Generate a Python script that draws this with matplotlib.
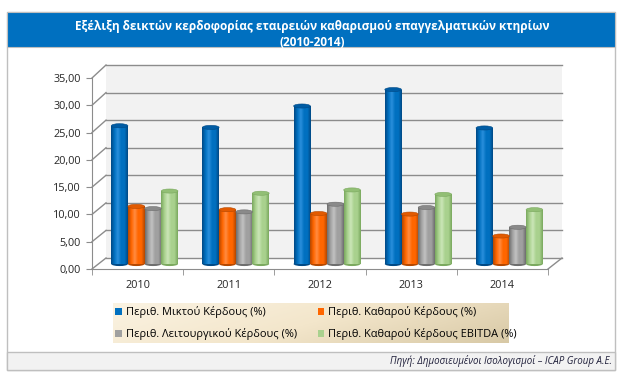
import numpy as np
import matplotlib.pyplot as plt
from matplotlib.patches import Rectangle, Ellipse
from matplotlib.lines import Line2D
from matplotlib.colors import LinearSegmentedColormap

plt.rcParams['font.family'] = ['Open Sans', 'DejaVu Sans']

years = ['2010', '2011', '2012', '2013', '2014']
gross_margin = [25.2, 24.9, 28.8, 31.8, 24.8]
net_margin = [10.5, 9.9, 9.2, 9.1, 5.1]
operating_margin = [10.1, 9.5, 10.9, 10.3, 6.7]
ebitda_margin = [13.3, 12.9, 13.5, 12.7, 9.9]

series = [gross_margin, net_margin, operating_margin, ebitda_margin]
series_labels = ['Περιθ. Μικτού Κέρδους (%)',
                 'Περιθ. Καθαρού Κέρδους (%)',
                 'Περιθ. Λειτουργικού Κέρδους (%)',
                 'Περιθ. Καθαρού Κέρδους EBITDA (%)']
y_ticks = [0, 5, 10, 15, 20, 25, 30, 35]

title = 'Εξέλιξη δεικτών κερδοφορίας εταιρειών καθαρισμού επαγγελματικών κτηρίων\n(2010-2014)'
source = 'Πηγή: Δημοσιευμένοι Ισολογισμοί – ICAP Group A.E.'

# (dark edge, base, highlight, cap)
palette = [('#004a86', '#0070c0', '#2a8fdc', '#005ca4'),
           ('#b54800', '#ff6600', '#ff8c42', '#e25a00'),
           ('#6e6e6e', '#a0a0a0', '#c2c2c2', '#8a8a8a'),
           ('#7ba95f', '#a9d18e', '#cbe6b8', '#92bf75')]

W, H = 636, 376
fig = plt.figure(figsize=(W / 100, H / 100), dpi=100)


def box(x0, y0, x1, y1):
    # pixel box (top-left origin) -> figure fraction rect
    return [x0 / W, 1 - y1 / H, (x1 - x0) / W, (y1 - y0) / H]


def rect(x0, y0, x1, y1, **kw):
    b = box(x0, y0, x1, y1)
    fig.patches.append(Rectangle((b[0], b[1]), b[2], b[3], zorder=-5,
                                 transform=fig.transFigure, **kw))


# panel, title bar, source strip
rect(7, 12, 615, 370, fc='white', ec='#bfbfbf', lw=1)
rect(7, 12, 615, 47, fc='#0070c0', ec='#bfbfbf', lw=0.8)
rect(7, 352, 615, 370, fc='#f2f2f2', ec='#bfbfbf', lw=1)

fig.text(312 / W, 1 - 34.5 / H, title, ha='center', va='center',
         color='white', fontweight='bold', fontsize=8.5, linespacing=1.25)
fig.text(612 / W, 1 - 361 / H, source, ha='right', va='center',
         style='italic', fontsize=7, color='#1f1f3a')

x = np.arange(len(years))

# back wall
ax_wall = fig.add_axes(box(106, 65, 562, 258))
ax_wall.set_facecolor('#f2f2f2')
ax_wall.set_xlim(-0.5, len(years) - 0.5)
ax_wall.set_ylim(0, 35)
for v in y_ticks:
    ax_wall.axhline(v, color='#8c8c8c', lw=1, clip_on=False)
ax_wall.set_xticks([])
ax_wall.set_yticks([])
for s in ax_wall.spines.values():
    s.set_visible(False)

# front axis
ax_front = fig.add_axes(box(92, 78, 548, 269))
ax_front.set_facecolor('none')
ax_front.set_xlim(-0.5, len(years) - 0.5)
ax_front.set_ylim(0, 35)
ax_front.set_yticks(y_ticks)
ax_front.set_yticklabels([f'{v:.2f}'.replace('.', ',') for v in y_ticks])
ax_front.set_xticks(x)
ax_front.set_xticklabels(years)
ax_front.set_xticks(np.arange(len(years) + 1) - 0.5, minor=True)
ax_front.tick_params(axis='y', length=4, color='#8c8c8c', labelsize=7.8,
                     labelcolor='#262626', pad=4)
ax_front.tick_params(axis='x', which='major', length=0, labelsize=7.8,
                     labelcolor='#262626', pad=8)
ax_front.tick_params(axis='x', which='minor', length=4, color='#8c8c8c')
for k in ('top', 'right'):
    ax_front.spines[k].set_visible(False)
for k in ('left', 'bottom'):
    ax_front.spines[k].set_color('#8c8c8c')

# depth lines joining the front axis to the back wall
to_fig = fig.transFigure.inverted()
joins = [(-0.5, v) for v in y_ticks] + [(len(years) - 0.5, 0)]
for px, py in joins:
    a = to_fig.transform(ax_front.transData.transform((px, py)))
    b = to_fig.transform(ax_wall.transData.transform((px, py)))
    fig.lines.append(Line2D([a[0], b[0]], [a[1], b[1]], color='#8c8c8c',
                            lw=1, transform=fig.transFigure))

# bars (mid depth)
ax_bar = fig.add_axes(box(99, 72, 555, 264))
ax_bar.set_facecolor('none')
ax_bar.axis('off')
w = 0.183
cap_h = 0.75
for i, (vals, (dark, base, light, cap)) in enumerate(zip(series, palette)):
    cmap = LinearSegmentedColormap.from_list(
        f's{i}', [dark, base, light, base, base, dark])
    bars = ax_bar.bar(x + (i - 1.5) * w, vals, width=w, color=base,
                      lw=0, zorder=2)
    for b in bars:
        bx, bw, bh = b.get_x(), b.get_width(), b.get_height()
        ax_bar.add_patch(Ellipse((bx + bw / 2, 0), bw, cap_h, fc=dark,
                                 lw=0, zorder=1.9, clip_on=False))
        im = ax_bar.imshow(np.linspace(0, 1, 50)[np.newaxis, :], cmap=cmap,
                           extent=(bx, bx + bw, 0, bh), aspect='auto',
                           zorder=2.5)
        im.set_clip_path(b)
        ax_bar.add_patch(Ellipse((bx + bw / 2, bh), bw, cap_h, fc=cap,
                                 ec=dark, lw=0.4, zorder=3, clip_on=False))
ax_bar.set_xlim(-0.5, len(years) - 0.5)
ax_bar.set_ylim(0, 35)

# legend with tan gradient background
ax_leg = fig.add_axes(box(113, 303, 509, 343))
gx, gy = np.meshgrid(np.linspace(0, 1, 200), np.linspace(0, 1, 40))
tan = LinearSegmentedColormap.from_list('tan', ['#fbf3e2', '#f3e6cb', '#d8c9a6'])
ax_leg.imshow(0.75 * gx + 0.25 * gy, cmap=tan, aspect='auto',
              extent=(0, 1, 0, 1), origin='upper')
ax_leg.axis('off')
order = [0, 2, 1, 3]
handles = [Rectangle((0, 0), 1, 1, fc=palette[k][1]) for k in order]
ax_leg.legend(handles, [series_labels[k] for k in order], ncol=2,
              loc='center left', bbox_to_anchor=(0, 0.5), frameon=False,
              fontsize=7.9, handlelength=0.6, handleheight=0.6,
              handletextpad=0.35, columnspacing=1.9, borderaxespad=0.1,
              borderpad=0.1, labelspacing=0.9)

fig.savefig('out.png', dpi=100)
